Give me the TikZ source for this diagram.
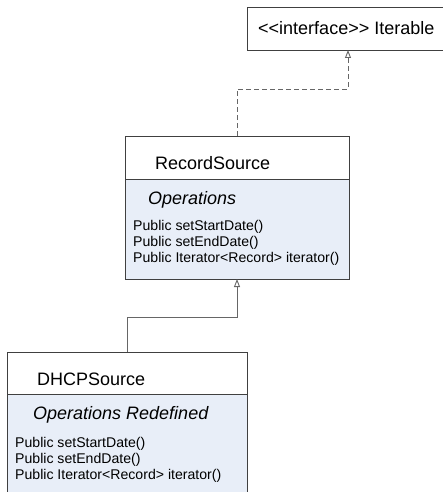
\documentclass[tikz,border=0pt]{standalone}
\usepackage{fontspec}
\setmainfont[Ligatures=NoCommon]{Liberation Sans}
\usetikzlibrary{arrows.meta}
\definecolor{opsblue}{RGB}{232,238,248}
\tikzstyle{hdr}=[rectangle,draw=black!75,fill=white,line width=0.9pt,anchor=north west,inner sep=0pt,outer sep=0pt]
\tikzstyle{ops}=[hdr,fill=opsblue]
\tikzstyle{ttl}=[anchor=west,inner sep=0pt,font=\fontsize{18}{20}\selectfont]
\tikzstyle{optl}=[anchor=west,inner sep=0pt,font=\fontsize{18}{20}\selectfont\itshape]
\tikzstyle{mth}=[anchor=west,inner sep=0pt,font=\fontsize{14.1}{16}\selectfont]
\tikzstyle{lnk}=[draw=black!60,line width=0.9pt]
\tikzstyle{gen}=[-{Triangle[open,length=8pt,width=6pt]}]

\begin{document}
\begin{tikzpicture}[x=1pt,y=-1pt]
\clip (0,0) rectangle (443,492);
\node[hdr,minimum width=202,minimum height=43] (it) at (247,7) {};
\node[ttl] (itname) at (258,28) {<{}<interface>{}> Iterable};
\node[hdr,minimum width=224,minimum height=43] (rs) at (125,136) {};
\node[ops,minimum width=224,minimum height=100] (rsb) at (125,179) {};
\node[ttl] (rsname) at (155,163) {RecordSource};
\node[optl] (rsops) at (148,200) {Operations};
\node[mth] (rsm1) at (133,227) {Public setStartDate()};
\node[mth] (rsm2) at (133,243) {Public setEndDate()};
\node[mth] (rsm3) at (133,259) {Public Iterator<Record> iterator()};
\node[hdr,minimum width=240,minimum height=42] (ds) at (7,352) {};
\node[ops,minimum width=240,minimum height=110] (dsb) at (7,394) {};
\node[ttl] (dsname) at (37,379) {DHCPSource};
\node[optl] (dsops) at (33,415) {Operations Redefined};
\node[mth] (dsm1) at (15,444) {Public setStartDate()};
\node[mth] (dsm2) at (15,460) {Public setEndDate()};
\node[mth] (dsm3) at (15,476) {Public Iterator<Record> iterator()};
\coordinate (d1) at (237,89);
\coordinate (s1) at (127,317);
\draw[lnk,gen,dash pattern=on 5pt off 3pt] (rs.north) -- (d1) -| (it.south);
\draw[lnk,gen] (ds.north) -- (s1) -| (rsb.south);
\end{tikzpicture}
\end{document}
